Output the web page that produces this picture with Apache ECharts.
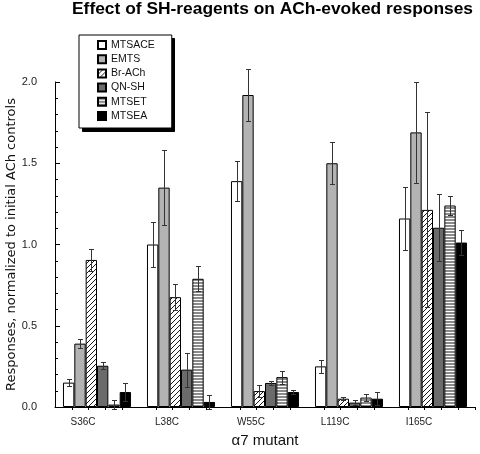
<!DOCTYPE html>
<html>
<head>
<meta charset="utf-8">
<script src="https://cdn.jsdelivr.net/npm/echarts@6/dist/echarts.min.js"></script>
<style>html,body{margin:0;padding:0;background:#fff}#c{width:480px;height:454px}</style>
</head>
<body>
<div id="c"></div>
<script>
const categories = ['S36C', 'L38C', 'W55C', 'L119C', 'I165C'];
const seriesNames = ['MTSACE', 'EMTS', 'Br-ACh', 'QN-SH', 'MTSET', 'MTSEA'];
const mtsace = [0.15, 1.00, 1.39, 0.25, 1.16];
const mtsaceErr = [0.023, 0.14, 0.125, 0.04, 0.195];
const emts = [0.39, 1.35, 1.92, 1.50, 1.69];
const emtsErr = [0.027, 0.233, 0.16, 0.128, 0.31];
const brach = [0.905, 0.676, 0.098, 0.051, 1.213];
const brachErr = [0.067, 0.08, 0.035, 0.01, 0.6];
const qnsh = [0.254, 0.23, 0.148, 0.027, 1.103];
const qnshErr = [0.02, 0.105, 0.01, 0.015, 0.207];
const mtset = [0.015, 0.789, 0.184, 0.058, 1.24];
const mtsetErr = [0.027, 0.078, 0.04, 0.02, 0.056];
const mtsea = [0.092, 0.031, 0.092, 0.051, 1.012];
const mtseaErr = [0.055, 0.045, 0.015, 0.04, 0.078];
const yTicks = [0, 0.5, 1.0, 1.5, 2.0];

const values = [mtsace, emts, brach, qnsh, mtset, mtsea];
const errors = [mtsaceErr, emtsErr, brachErr, qnshErr, mtsetErr, mtseaErr];

function hatch() {
  const s = 5, c = document.createElement('canvas');
  c.width = s; c.height = s;
  const g = c.getContext('2d');
  g.fillStyle = '#fff'; g.fillRect(0, 0, s, s);
  g.strokeStyle = '#000'; g.lineWidth = 0.9;
  g.beginPath();
  g.moveTo(0, s); g.lineTo(s, 0);
  g.moveTo(-1, 1); g.lineTo(1, -1);
  g.moveTo(s - 1, s + 1); g.lineTo(s + 1, s - 1);
  g.stroke();
  return c;
}
function stripes() {
  const c = document.createElement('canvas');
  c.width = 4; c.height = 3;
  const g = c.getContext('2d');
  g.fillStyle = '#8a8a8a'; g.fillRect(0, 0, 4, 2);
  g.fillStyle = '#fff'; g.fillRect(0, 2, 4, 1);
  return c;
}
const fills = ['#ffffff', '#b3b3b3', {image: hatch(), repeat: 'repeat'}, '#6b6b6b', {image: stripes(), repeat: 'repeat'}, '#000000'];

const BAND_FILL = 0.81;
const barSeries = seriesNames.map((n, k) => ({
  name: n, type: 'bar', data: values[k],
  barGap: '0%', barCategoryGap: '19%',
  itemStyle: {color: fills[k], borderColor: '#000', borderWidth: 1},
  z: 2
}));

const errData = [];
for (let k = 0; k < 6; k++) {
  for (let i = 0; i < categories.length; i++) {
    errData.push([i, k, values[k][i], errors[k][i]]);
  }
}

const errSeries = {
  type: 'custom', name: 'err', z: 4,
  data: errData,
  encode: {x: 0, y: 2},
  renderItem: function (params, api) {
    const cat = api.value(0), k = api.value(1), v = api.value(2), e = api.value(3);
    const band = api.size([1, 0])[0];
    const center = api.coord([cat, 0])[0];
    const bw = band * BAND_FILL / 6;
    const x = Math.round(center - band * BAND_FILL / 2 + (k + 0.5) * bw) + 0.5;
    const yT = Math.round(api.coord([cat, v + e])[1]) + 0.5;
    const yB = Math.round(api.coord([cat, v - e])[1]) + 0.5;
    const cap = 2.5;
    const st = {stroke: '#333', lineWidth: 1};
    return {type: 'group', children: [
      {type: 'line', shape: {x1: x, y1: yT, x2: x, y2: yB}, style: st},
      {type: 'line', shape: {x1: x - cap, y1: yT, x2: x + cap, y2: yT}, style: st},
      {type: 'line', shape: {x1: x - cap, y1: yB, x2: x + cap, y2: yB}, style: st}
    ]};
  }
};

const chart = echarts.init(document.getElementById('c'), null, {renderer: 'canvas'});
chart.setOption({
  animation: false,
  backgroundColor: '#fff',
  title: {
    text: 'Effect of SH-reagents on ACh-evoked responses',
    left: 72, top: 1, padding: 0,
    textStyle: {fontFamily: 'Liberation Sans, Arial, sans-serif', fontSize: 17.4, fontWeight: 'bold', color: '#000'}
  },
  graphic: {
    elements: [{
      type: 'rect', z: 0, left: 82, top: 38,
      shape: {width: 92, height: 93},
      style: {fill: '#000', stroke: '#000'}
    }]
  },
  legend: {
    z: 6,
    data: seriesNames,
    orient: 'vertical',
    left: 79, top: 35,
    padding: [3, 17, 5, 18],
    itemWidth: 8, itemHeight: 8, itemGap: 0.2,
    icon: 'rect',
    backgroundColor: '#fff',
    borderColor: '#000', borderWidth: 1,
    textStyle: {fontFamily: 'Liberation Sans, Arial, sans-serif', fontSize: 10.5, color: '#111', lineHeight: 14}
  },
  grid: {left: 55, right: 5, top: 82, bottom: 47, containLabel: false, outerBoundsMode: 'none'},
  xAxis: [{
    type: 'category', data: categories,
    axisLine: {lineStyle: {color: '#000', width: 1}},
    axisTick: {show: false},
    axisLabel: {fontFamily: 'Liberation Sans, Arial, sans-serif', fontSize: 10, color: '#222', margin: 10, padding: [0, 28, 0, 0]},
    name: 'α7 mutant', nameLocation: 'middle', nameGap: 26, nameMoveOverlap: false,
    nameTextStyle: {fontFamily: 'Liberation Sans, Arial, sans-serif', fontSize: 15, color: '#111'}
  }, {
    type: 'category', data: Array.from({length: 25}, () => ''),
    position: 'bottom',
    axisLine: {show: false},
    axisLabel: {show: false},
    axisTick: {show: true, length: 3, interval: function (i) { return i % 5 !== 0; }, lineStyle: {color: '#000'}}
  }],
  yAxis: {
    type: 'value', min: 0, max: 2, interval: 0.5,
    axisLine: {show: true, lineStyle: {color: '#000', width: 1}},
    axisTick: {show: true, inside: true, length: 5, lineStyle: {color: '#000'}},
    minorTick: {show: true, splitNumber: 5, length: 3, lineStyle: {color: '#000'}},
    splitLine: {show: false},
    axisLabel: {fontFamily: 'Liberation Sans, Arial, sans-serif', fontSize: 11, color: '#222', margin: 18,
      formatter: v => yTicks.includes(v) ? v.toFixed(1) : ''},
    name: 'Responses, normalized to initial ACh controls', nameLocation: 'middle', nameGap: 37, nameMoveOverlap: false,
    nameTextStyle: {fontFamily: 'DejaVu Sans, sans-serif', fontSize: 13, color: '#111'}
  },
  series: [...barSeries, errSeries]
});
</script>
</body>
</html>
